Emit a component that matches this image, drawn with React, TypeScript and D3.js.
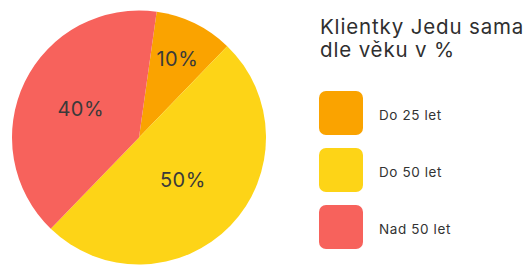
import React from "react";
import * as d3 from "d3";

const categories = ["Do 25 let", "Do 50 let", "Nad 50 let"];
const values = [10, 50, 40];
const colors = ["#FAA300", "#FDD417", "#F7625C"];
const titleLines = ["Klientky Jedu sama", "dle věku v %"];
const labelRadiusFrac = [0.69, 0.48, 0.51];

const W = 531;
const H = 265;
const cx = 139;
const cy = 137.5;
const R = 127;
const startDeg = 8;

export default function App() {
  const pie = d3
    .pie<number>()
    .sort(null)
    .value((d) => d)
    .startAngle((startDeg * Math.PI) / 180)
    .endAngle(((startDeg + 360) * Math.PI) / 180);
  const arcs = pie(values);
  const arc = d3.arc<d3.PieArcDatum<number>>().innerRadius(0).outerRadius(R);
  const legendY = d3
    .scaleBand<number>()
    .domain(d3.range(categories.length))
    .range([91, 91 + 57 * 3])
    .paddingInner(0);
  const font = "Inter, 'Noto Sans', sans-serif";
  return (
    <svg
      width={W}
      height={H}
      style={{ position: "absolute", left: 0, top: 0, background: "#fff" }}
      fontFamily={font}
    >
      <g transform={`translate(${cx},${cy})`}>
        {arcs.map((a, i) => (
          <path key={i} d={arc(a) || ""} fill={colors[i]} />
        ))}
        {arcs.map((a, i) => {
          const r = R * labelRadiusFrac[i];
          const [x, y] = d3.arc<d3.PieArcDatum<number>>().innerRadius(r).outerRadius(r).centroid(a);
          return (
            <text
              key={i}
              x={x}
              y={y}
              textAnchor="middle"
              dominantBaseline="central"
              fontSize={20}
              letterSpacing={0.5}
              fill="#3a3a3a"
            >
              {values[i]}%
            </text>
          );
        })}
      </g>
      {titleLines.map((t, i) => (
        <text key={i} x={320} y={34 + i * 23} fontSize={20.5} letterSpacing={0.85} fill="#2f2f2f">
          {t}
        </text>
      ))}
      {categories.map((c, i) => {
        const y = legendY(i)!;
        return (
          <g key={c}>
            <rect x={319} y={y} width={44} height={44} rx={7} fill={colors[i]} />
            <text
              x={379}
              y={y + 24}
              fontSize={13.5}
              letterSpacing={0.6}
              fill="#333"
              dominantBaseline="central"
            >
              {c}
            </text>
          </g>
        );
      })}
    </svg>
  );
}
